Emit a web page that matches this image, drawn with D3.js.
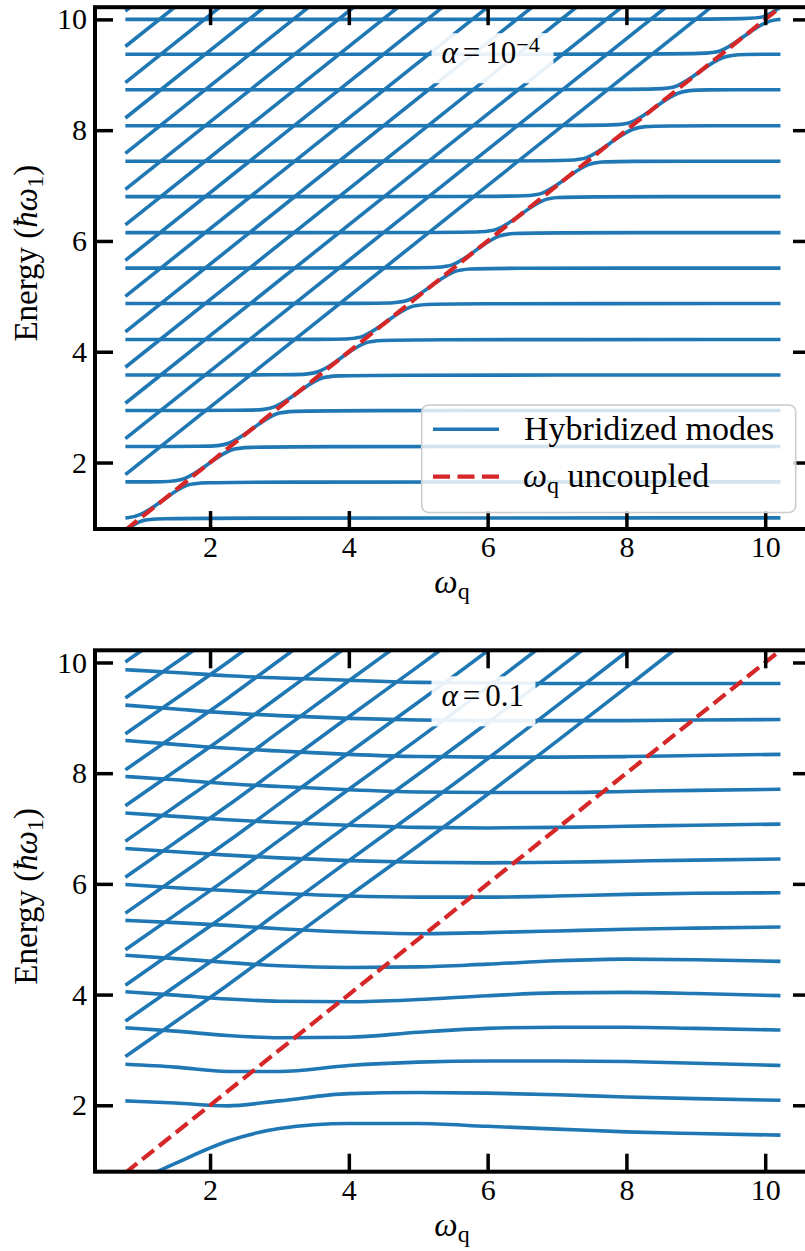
<!DOCTYPE html>
<html>
<head>
<meta charset="utf-8">
<script src="https://cdn.jsdelivr.net/npm/d3@7"></script>
<style>
  body { margin: 0; background: #fff; }
  svg { display: block; }
  text { font-family: "Liberation Serif", "Times New Roman", serif; fill: #000; }
</style>
</head>
<body>
<svg id="chart" width="805" height="1251"></svg>
<script>
// ---------------- data ----------------
const xTicks = [2, 4, 6, 8, 10];
const yTicks = [2, 4, 6, 8, 10];
const sweep = [0.78, 10.22];                       // ω_q sweep range

// top panel (α = 1e-4): bare mode energies and two-excitation diagonal offsets
const topModeLevels = [1.00, 1.65, 2.29, 2.94, 3.58, 4.22, 4.87, 5.51, 6.15, 6.80, 7.44, 8.08, 8.73, 9.37, 10.00];
const topDiagOffsets = [1.00, 1.65, 2.29, 2.94, 3.58, 4.22, 4.87, 5.51, 6.15, 6.80, 7.44, 8.08, 8.73, 9.37];
const crossingWidth = 0.3;     // half-width of the avoided crossings (ω_q units)
const crossingGap = 0.02;      // control-point offset giving the small anticrossing gap

// bottom panel (α = 0.1): hybridized curves sampled at bottomX
const bottomX = [0.78, 1.5, 2.25, 3.0, 4.0, 5.0, 6.0, 7.0, 8.0, 9.0, 10.22];
const mode0  = [0.53, 0.95, 1.35, 1.58, 1.67, 1.67, 1.62, 1.57, 1.52, 1.49, 1.46];
const mode1  = [2.08, 2.04, 1.99, 2.08, 2.21, 2.23, 2.22, 2.19, 2.15, 2.12, 2.09];
const mode2  = [2.74, 2.69, 2.61, 2.61, 2.72, 2.78, 2.80, 2.80, 2.79, 2.76, 2.72];
const mode3  = [3.40, 3.34, 3.26, 3.22, 3.23, 3.32, 3.39, 3.41, 3.41, 3.39, 3.36];
const mode4  = [4.05, 3.99, 3.92, 3.88, 3.87, 3.91, 3.98, 4.03, 4.04, 4.02, 3.98];
const mode5  = [4.71, 4.65, 4.58, 4.52, 4.49, 4.50, 4.55, 4.61, 4.64, 4.63, 4.60];
const mode6  = [5.34, 5.30, 5.25, 5.19, 5.13, 5.10, 5.12, 5.15, 5.18, 5.20, 5.22];
const mode7  = [5.99, 5.93, 5.88, 5.83, 5.78, 5.76, 5.76, 5.78, 5.81, 5.83, 5.84];
const mode8  = [6.64, 6.58, 6.52, 6.47, 6.42, 6.39, 6.38, 6.39, 6.41, 6.43, 6.45];
const mode9  = [7.28, 7.22, 7.16, 7.11, 7.06, 7.02, 7.01, 7.02, 7.04, 7.06, 7.08];
const mode10 = [7.94, 7.88, 7.81, 7.76, 7.70, 7.66, 7.65, 7.65, 7.67, 7.69, 7.71];
const mode11 = [8.59, 8.52, 8.45, 8.40, 8.34, 8.30, 8.29, 8.29, 8.30, 8.32, 8.34];
const mode12 = [9.23, 9.16, 9.09, 9.04, 8.99, 8.96, 8.95, 8.95, 8.95, 8.96, 8.97];
const mode13 = [9.87, 9.82, 9.76, 9.72, 9.68, 9.64, 9.63, 9.62, 9.62, 9.62, 9.62];
const bottomModes = [mode0, mode1, mode2, mode3, mode4, mode5, mode6, mode7, mode8, mode9, mode10, mode11, mode12, mode13];
// lowest two-excitation branch and the shifts of the others
const bottomDiagBase  = [2.88, 3.51, 4.17, 4.86, 5.78, 6.69, 7.62, 8.58, 9.55, 10.53, 11.72];
const bottomDiagShift = [0, 0.64, 1.29, 1.93, 2.59, 3.24, 3.89, 4.53, 5.18, 5.83, 6.48, 7.13];

const legendLabels = ["Hybridized modes", "uncoupled"];

// ---------------- layout ----------------
const BLUE = "#1f77b4", RED = "#d62728";
const BLUE_W = 3.6, RED_W = 4.2, DASH = "15,6.5";
const svg = d3.select("#chart");
const defs = svg.append("defs");
const plotLeft = 95, plotRight = 811;
const xDomain = [0.342, 10.66], yDomain = [0.80, 10.22];
const panels = [
  { key: "top", top: 7.2, bottom: 529, alpha: "top" },
  { key: "bot", top: 650.3, bottom: 1171.7, alpha: "bot" }
];

function drawPanel(p, drawBlue) {
  const x = d3.scaleLinear().domain(xDomain).range([plotLeft, plotRight]);
  const y = d3.scaleLinear().domain(yDomain).range([p.bottom, p.top]);
  const g = svg.append("g");
  defs.append("clipPath").attr("id", "clip-" + p.key).append("rect")
    .attr("x", plotLeft).attr("y", p.top)
    .attr("width", plotRight - plotLeft).attr("height", p.bottom - p.top);
  const plot = g.append("g").attr("clip-path", `url(#clip-${p.key})`);

  drawBlue(plot, x, y);

  // uncoupled qubit line
  plot.append("path")
    .attr("d", d3.line().x(d => x(d[0])).y(d => y(d[1]))([[sweep[0], sweep[0]], [sweep[1], sweep[1]]]))
    .attr("fill", "none").attr("stroke", RED).attr("stroke-width", RED_W)
    .attr("stroke-dasharray", DASH);

  // axes (ticks inward on all sides)
  const styleAxis = sel => {
    sel.select(".domain").remove();
    sel.attr("font-family", null).attr("font-size", null);
    sel.selectAll(".tick line").attr("stroke", "#000").attr("stroke-width", 3.5);
    sel.selectAll(".tick text").style("font-size", "30px").attr("fill", "#000");
  };
  g.append("g").attr("transform", `translate(0,${p.bottom})`)
    .call(d3.axisBottom(x).tickValues(xTicks).tickSizeInner(-18).tickSizeOuter(0).tickPadding(7).tickFormat(d3.format("d")))
    .call(styleAxis);
  g.append("g").attr("transform", `translate(0,${p.top})`)
    .call(d3.axisTop(x).tickValues(xTicks).tickSizeInner(-18).tickSizeOuter(0).tickFormat(""))
    .call(styleAxis);
  g.append("g").attr("transform", `translate(${plotLeft},0)`)
    .call(d3.axisLeft(y).tickValues(yTicks).tickSizeInner(-18).tickSizeOuter(0).tickPadding(8).tickFormat(d3.format("d")))
    .call(styleAxis);
  g.append("g").attr("transform", `translate(${plotRight},0)`)
    .call(d3.axisRight(y).tickValues(yTicks).tickSizeInner(-18).tickSizeOuter(0).tickFormat(""))
    .call(styleAxis);

  // spines
  g.append("rect").attr("x", plotLeft).attr("y", p.top)
    .attr("width", plotRight - plotLeft).attr("height", p.bottom - p.top)
    .attr("fill", "none").attr("stroke", "#000").attr("stroke-width", 4);

  // axis labels
  const xl = g.append("text").attr("x", 452).attr("y", p.bottom + 64)
    .attr("text-anchor", "middle").style("font-size", "33px");
  xl.append("tspan").attr("font-style", "italic").text("ω");
  xl.append("tspan").attr("dy", "0.25em").style("font-size", "24px").text("q");

  const yl = g.append("text")
    .attr("transform", `translate(37,${p.top + 246}) rotate(-90)`)
    .attr("text-anchor", "middle").style("font-size", "33px");
  yl.append("tspan").text("Energy (");
  yl.append("tspan").attr("font-style", "italic").text("ħω");
  yl.append("tspan").attr("dy", "0.25em").style("font-size", "24px").text("1");
  yl.append("tspan").attr("dy", "-0.18em").text(")");

  // α label with semi-transparent box
  g.append("rect").attr("x", 431.5).attr("y", p.top + 26)
    .attr("width", p.alpha === "top" ? 122 : 104).attr("height", 50)
    .attr("fill", "#fff").attr("fill-opacity", 0.9);
  const at = g.append("text").attr("x", 441.5).attr("y", p.top + 56).style("font-size", "31px");
  at.append("tspan").attr("font-style", "italic").text("α");
  at.append("tspan").attr("dx", 5).text("=");
  if (p.alpha === "top") {
    at.append("tspan").attr("dx", 5).text("10");
    at.append("tspan").attr("dy", "-0.5em").style("font-size", "22px").text("−4");
  } else {
    at.append("tspan").attr("dx", 5).text("0.1");
  }
  return { g, x, y };
}

// ---------------- top panel ----------------
const topPanel = drawPanel(panels[0], (plot, x, y) => {
  const E = topModeLevels, x0 = sweep[0], x1 = sweep[1];
  const r = crossingWidth, dg = crossingGap;
  const smooth = d3.line().x(d => x(d[0])).y(d => y(d[1])).curve(d3.curveBasis);
  const straight = d3.line().x(d => x(d[0])).y(d => y(d[1]));
  // two-excitation diagonals
  topDiagOffsets.forEach(c => {
    plot.append("path").attr("d", straight([[x0, x0 + c], [x1, x1 + c]]))
      .attr("fill", "none").attr("stroke", BLUE).attr("stroke-width", BLUE_W);
  });
  // corner control points: flat -> qubit line (upper branch) and qubit line -> flat (lower branch)
  const up = e => [[e - r, e], [e - dg, e + dg], [e + r, e + r]];
  const down = e => [[e - r, e - r], [e + dg, e - dg], [e + r, e]];
  const inside = pts => pts.filter(q => q[0] > x0 && q[0] < x1);
  const branches = [];
  branches.push([[x0, x0], ...inside(down(E[0])), [x1, E[0]]]);
  for (let k = 1; k < E.length; k++) {
    branches.push([[x0, E[k - 1]], ...inside(up(E[k - 1])), ...inside(down(E[k])), [x1, E[k]]]);
  }
  const last = E[E.length - 1];
  branches.push([[x0, last], ...inside(up(last)), [x1, x1]]);
  branches.forEach(b => {
    plot.append("path").attr("d", smooth(b))
      .attr("fill", "none").attr("stroke", BLUE).attr("stroke-width", BLUE_W);
  });
});

// legend (top panel)
{
  const g = topPanel.g;
  g.append("rect").attr("x", 421.7).attr("y", 405).attr("width", 374).attr("height", 107.5)
    .attr("rx", 7).attr("ry", 7)
    .attr("fill", "#fff").attr("fill-opacity", 0.8)
    .attr("stroke", "#cccccc").attr("stroke-width", 1.6);
  g.append("line").attr("x1", 433).attr("x2", 499).attr("y1", 429.3).attr("y2", 429.3)
    .attr("stroke", BLUE).attr("stroke-width", BLUE_W);
  g.append("text").attr("x", 524).attr("y", 440).style("font-size", "34px").text(legendLabels[0]);
  g.append("line").attr("x1", 433).attr("x2", 499).attr("y1", 476.7).attr("y2", 476.7)
    .attr("stroke", RED).attr("stroke-width", RED_W).attr("stroke-dasharray", "17,7.5");
  const t = g.append("text").attr("x", 523).attr("y", 487).style("font-size", "34px");
  t.append("tspan").attr("font-style", "italic").text("ω");
  t.append("tspan").attr("dy", "0.25em").style("font-size", "24px").text("q");
  t.append("tspan").attr("dy", "-0.18em").text(" " + legendLabels[1]);
}

// ---------------- bottom panel ----------------
drawPanel(panels[1], (plot, x, y) => {
  const curve = d3.line().x(d => x(d[0])).y(d => y(d[1])).curve(d3.curveMonotoneX);
  bottomDiagShift.forEach(s => {
    const pts = bottomX.map((xv, i) => [xv, bottomDiagBase[i] + s]);
    plot.append("path").attr("d", curve(pts))
      .attr("fill", "none").attr("stroke", BLUE).attr("stroke-width", BLUE_W);
  });
  bottomModes.forEach(m => {
    const pts = bottomX.map((xv, i) => [xv, m[i]]);
    plot.append("path").attr("d", curve(pts))
      .attr("fill", "none").attr("stroke", BLUE).attr("stroke-width", BLUE_W);
  });
});
</script>
</body>
</html>
